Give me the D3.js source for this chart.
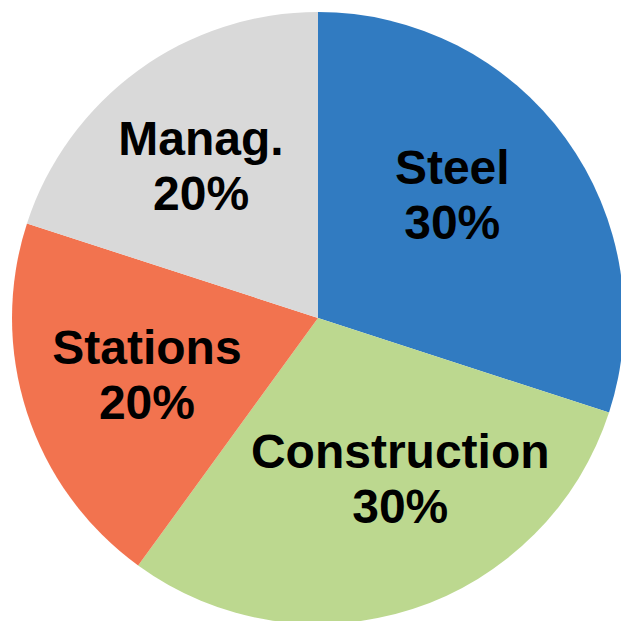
<!DOCTYPE html>
<html>
<head>
<meta charset="utf-8">
<script src="https://cdn.jsdelivr.net/npm/d3@7"></script>
<style>
  html, body { margin: 0; padding: 0; background: #fff; }
  svg { display: block; }
</style>
</head>
<body>
<div id="chart"></div>
<script>
const categories = ['Steel', 'Construction', 'Stations', 'Manag.'];
const shares = [30, 30, 20, 20];
const colors = ['#317bc1', '#bcd88f', '#f2734f', '#d9d9d9'];

// small per-label nudges, like the office tool does to keep text inside
const labelNudge = [[-13, -16], [26, -12], [2, 1], [-10, -5]];

const width = 621;
const height = 621;
const cx = 318, cy = 318;
const radius = 306;
const labelRadius = 182;

const svg = d3.select('#chart')
  .append('svg')
    .attr('width', width)
    .attr('height', height)
  .append('g')
    .attr('transform', `translate(${cx},${cy})`);

const data = categories.map((c, i) => ({name: c, value: shares[i], color: colors[i], i}));

const pie = d3.pie()
  .value(d => d.value)
  .sort(null);

const arc = d3.arc()
  .innerRadius(0)
  .outerRadius(radius);

const labelArc = d3.arc()
  .innerRadius(labelRadius)
  .outerRadius(labelRadius);

const arcs = pie(data);

svg.selectAll('path')
  .data(arcs)
  .join('path')
    .attr('d', arc)
    .attr('fill', d => d.data.color);

const labels = svg.selectAll('text.lbl')
  .data(arcs)
  .join('text')
    .attr('class', 'lbl')
    .attr('transform', d => {
      const [x, y] = labelArc.centroid(d);
      const n = labelNudge[d.data.i];
      return `translate(${x + n[0]},${y + n[1]})`;
    })
    .attr('text-anchor', 'middle')
    .style('font-family', '"Liberation Sans", Arial, sans-serif')
    .style('font-weight', 'bold')
    .style('font-size', '48px')
    .attr('fill', '#000');

labels.append('tspan')
  .attr('x', 0)
  .attr('y', -11)
  .text(d => d.data.name);

labels.append('tspan')
  .attr('x', 0)
  .attr('y', 44)
  .text(d => `${d.data.value}%`);
</script>
</body>
</html>
